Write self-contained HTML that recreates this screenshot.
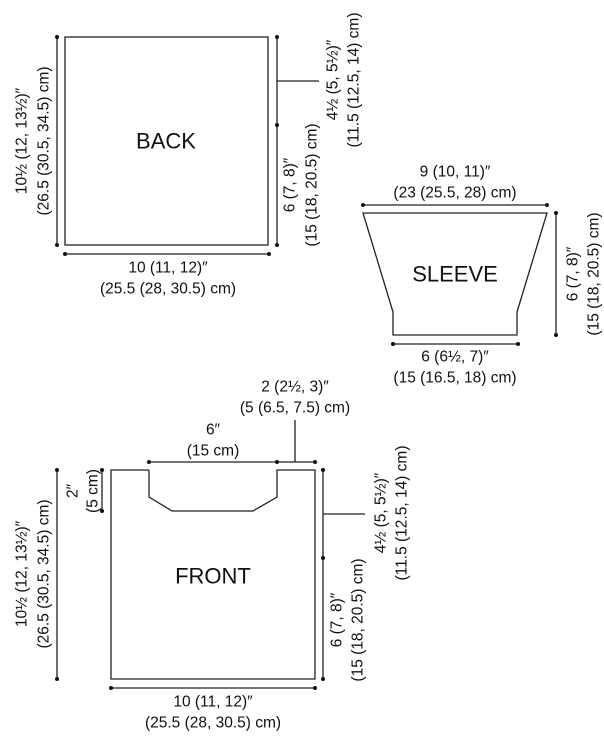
<!DOCTYPE html>
<html><head><meta charset="utf-8"><style>
html,body{margin:0;padding:0;background:#fff}
svg{display:block}
text{font-family:"Liberation Sans",sans-serif;font-size:15.5px;fill:#111}
.t{font-size:22px}
</style></head><body>
<svg width="604" height="738" viewBox="0 0 604 738" xmlns="http://www.w3.org/2000/svg">
<g stroke="#222" stroke-width="1.3" fill="none">
<rect x="65" y="37" width="203" height="208"/>
<line x1="57" y1="37" x2="57" y2="245"/>
<line x1="277" y1="37" x2="277" y2="245"/>
<line x1="277" y1="81" x2="319" y2="81"/>
<line x1="65" y1="254" x2="269" y2="254"/>
<polygon points="363,213 547,213 517,312 517,335 393,335 393,312"/>
<line x1="363" y1="205" x2="547" y2="205"/>
<line x1="556" y1="213" x2="556" y2="335"/>
<line x1="393" y1="344" x2="518" y2="344"/>
<polyline points="149,470 111,470 111,679 315,679 315,470 277,470 277,497 253,511 172,511 149,497 149,470"/>
<line x1="149" y1="462" x2="315" y2="462"/>
<line x1="295" y1="462" x2="295" y2="420"/>
<line x1="102" y1="470" x2="102" y2="511"/>
<line x1="57" y1="470" x2="57" y2="679"/>
<line x1="323" y1="470" x2="323" y2="679"/>
<line x1="323" y1="514" x2="365" y2="514"/>
<line x1="111" y1="688" x2="315" y2="688"/>
</g>
<g fill="#111">
<circle cx="57" cy="37" r="2"/><circle cx="57" cy="245" r="2"/>
<circle cx="277" cy="37" r="2"/><circle cx="277" cy="125" r="2"/><circle cx="277" cy="245" r="2"/>
<circle cx="65" cy="254" r="2"/><circle cx="269" cy="254" r="2"/>
<circle cx="363" cy="205" r="2"/><circle cx="547" cy="205" r="2"/>
<circle cx="556" cy="213" r="2"/><circle cx="556" cy="335" r="2"/>
<circle cx="393" cy="344" r="2"/><circle cx="518" cy="344" r="2"/>
<circle cx="149" cy="462" r="2"/><circle cx="277" cy="462" r="2"/><circle cx="315" cy="462" r="2"/>
<circle cx="102" cy="470" r="2"/><circle cx="102" cy="511" r="2"/>
<circle cx="57" cy="470" r="2"/><circle cx="57" cy="679" r="2"/>
<circle cx="323" cy="470" r="2"/><circle cx="323" cy="558" r="2"/><circle cx="323" cy="679" r="2"/>
<circle cx="111" cy="688" r="2"/><circle cx="315" cy="688" r="2"/>
</g>
<g text-anchor="middle" dominant-baseline="central">
<text class="t" x="166" y="141">BACK</text>
<text transform="translate(22,141) rotate(-90)">10½ (12, 13½)″</text>
<text transform="translate(44,141) rotate(-90)">(26.5 (30.5, 34.5) cm)</text>
<text transform="translate(290,185) rotate(-90)">6 (7, 8)″</text>
<text transform="translate(312,185) rotate(-90)">(15 (18, 20.5) cm)</text>
<text transform="translate(333,80) rotate(-90)">4½ (5, 5½)″</text>
<text transform="translate(354,80) rotate(-90)">(11.5 (12.5, 14) cm)</text>
<text x="168" y="268">10 (11, 12)″</text>
<text x="168" y="289">(25.5 (28, 30.5) cm)</text>

<text x="455" y="172">9 (10, 11)″</text>
<text x="455" y="193">(23 (25.5, 28) cm)</text>
<text class="t" x="455" y="274">SLEEVE</text>
<text transform="translate(573,274) rotate(-90)">6 (7, 8)″</text>
<text transform="translate(594,274) rotate(-90)">(15 (18, 20.5) cm)</text>
<text x="455" y="357">6 (6½, 7)″</text>
<text x="455" y="378">(15 (16.5, 18) cm)</text>

<text x="295" y="387">2 (2½, 3)″</text>
<text x="295" y="408">(5 (6.5, 7.5) cm)</text>
<text x="213" y="430">6″</text>
<text x="213" y="451">(15 cm)</text>
<text transform="translate(73,491) rotate(-90)">2″</text>
<text transform="translate(93,491) rotate(-90)">(5 cm)</text>
<text transform="translate(22,574) rotate(-90)">10½ (12, 13½)″</text>
<text transform="translate(44,574) rotate(-90)">(26.5 (30.5, 34.5) cm)</text>
<text class="t" x="213" y="576">FRONT</text>
<text transform="translate(337,620) rotate(-90)">6 (7, 8)″</text>
<text transform="translate(358,620) rotate(-90)">(15 (18, 20.5) cm)</text>
<text transform="translate(381,513) rotate(-90)">4½ (5, 5½)″</text>
<text transform="translate(402,513) rotate(-90)">(11.5 (12.5, 14) cm)</text>
<text x="213" y="702">10 (11, 12)″</text>
<text x="213" y="723">(25.5 (28, 30.5) cm)</text>
</g>
</svg>
</body></html>
